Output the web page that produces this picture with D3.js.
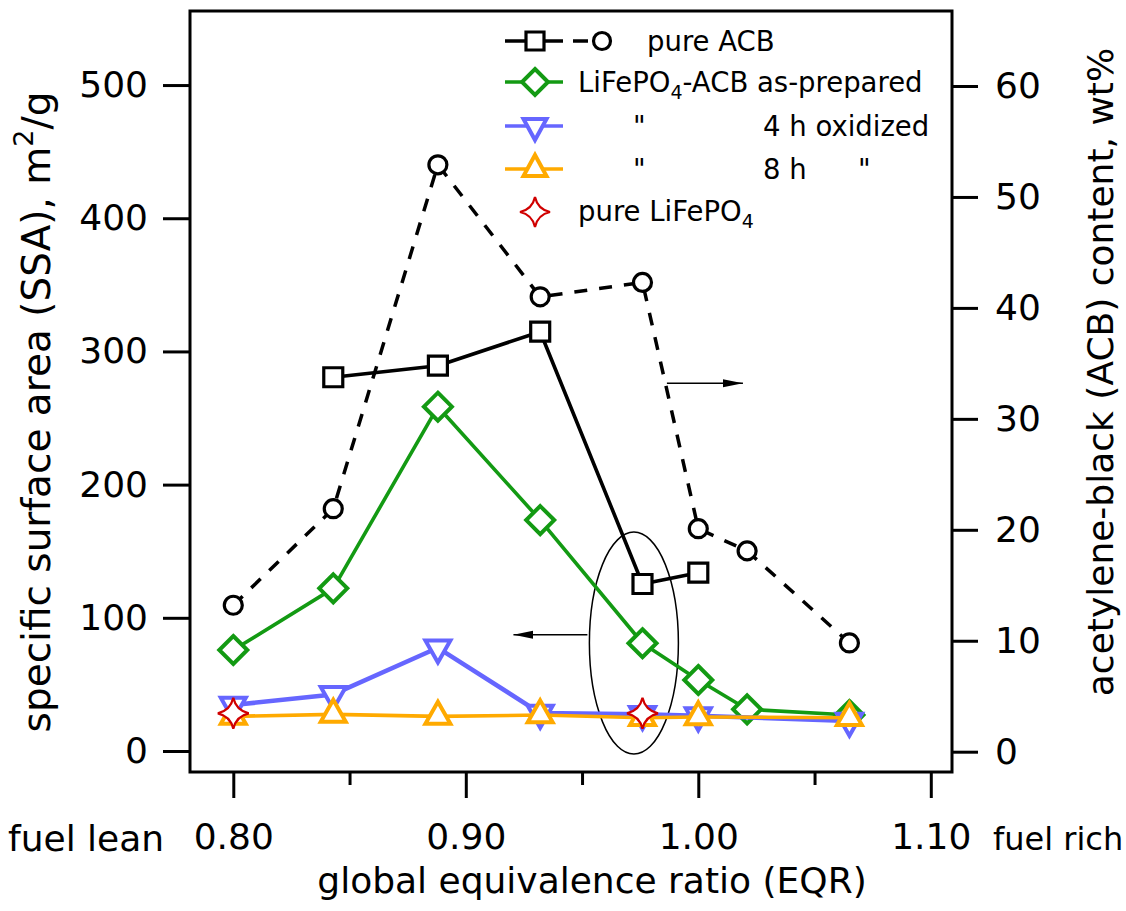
<!DOCTYPE html>
<html>
<head>
<meta charset="utf-8">
<script src="https://cdn.jsdelivr.net/npm/d3@7"></script>
<style>
  html, body { margin: 0; padding: 0; background: #fff; }
  svg { display: block; font-family: "DejaVu Sans", sans-serif; }
</style>
</head>
<body>
<svg id="chart" width="1126" height="911"></svg>
<script>
// ---------------- data ----------------
const eqrAll = [0.80, 0.843, 0.888, 0.932, 0.976, 1.00, 1.021, 1.065];
const acbContent = [13.2, 21.9, 52.9, 41.0, 42.3, 20.1, 18.1, 9.8];          // wt%, right axis (circles)
const eqrAcbSSA = [0.843, 0.888, 0.932, 0.976, 1.00];
const acbSSA = [280.6, 289.3, 314.8, 125.4, 133.9];                         // m2/g (squares)
const asPrepared = [75.8, 122.1, 258.5, 173.4, 80.9, 53.3, 31.3, 27.0];     // green diamonds
const eqrOx = [0.80, 0.843, 0.888, 0.932, 0.976, 1.00, 1.065];
const oxidized4h = [34.5, 42.5, 77.5, 28.5, 27.5, 26.5, 22.5];               // blue
const oxidized8h = [26.0, 27.5, 26.0, 27.0, 25.0, 25.5, 25.0];               // orange
const eqrLFP = [0.80, 0.976];
const pureLFP = [28.3, 28.3];                                                // red stars

const xTicks = [0.80, 0.90, 1.00, 1.10];
const xMinorTicks = [0.85, 0.95, 1.05];
const yLeftTicks = [0, 100, 200, 300, 400, 500];
const yRightTicks = [0, 10, 20, 30, 40, 50, 60];

// annotations (data coordinates)
const ellipseAnno = { x: 0.9723, y: 81 };
const leftArrow = { x1: 0.9523, x2: 0.9205, y: 87.3 };
const rightArrow = { x1: 0.9865, x2: 1.0192, y: 33.2 };

// ---------------- layout ----------------
const svg = d3.select("#chart");
const L = 190, R = 952, T = 11, B = 772;

const x = d3.scaleLinear().domain([0.78138, 1.10912]).range([L, R]);
const yL = d3.scaleLinear().domain([-15.77, 555.6]).range([B, T]);
const yR = d3.scaleLinear().domain([-1.83, 66.76]).range([B, T]);

const BLACK = "#000", GREEN = "#139a13", BLUE = "#6666ff", ORANGE = "#ffaa00", RED = "#d00000";

// ---------------- symbols ----------------
function squarePath(s) { const h = s / 2; return `M${-h},${-h}H${h}V${h}H${-h}Z`; }
function diamondPath(h) { return `M0,${-h}L${h},0L0,${h}L${-h},0Z`; }
function triUpPath(w, hgt) { return `M0,${-2*hgt/3}L${w/2},${hgt/3}L${-w/2},${hgt/3}Z`; }
function triDownPath(w, hgt) { return `M0,${2*hgt/3}L${w/2},${-hgt/3}L${-w/2},${-hgt/3}Z`; }
function starPath(Rr) { const c = Rr * 0.18;
  return `M0,${-Rr}Q${c},${-c} ${Rr},0Q${c},${c} 0,${Rr}Q${-c},${c} ${-Rr},0Q${-c},${-c} 0,${-Rr}Z`; }

// ---------------- axes frame ----------------
const g = svg.append("g");

const axL = d3.axisLeft(yL).tickValues(yLeftTicks).tickSize(27).tickPadding(15).tickFormat(d3.format("d"));
const gL = g.append("g").attr("transform", `translate(${L},0)`).call(axL);
const axR = d3.axisRight(yR).tickValues(yRightTicks).tickSize(26).tickPadding(17).tickFormat(d3.format("d"));
const gR = g.append("g").attr("transform", `translate(${R},0)`).call(axR);
const axB = d3.axisBottom(x).tickValues(xTicks).tickSize(26).tickPadding(25).tickFormat(d3.format(".2f"));
const gB = g.append("g").attr("transform", `translate(0,${B})`).call(axB);
const axBm = d3.axisBottom(x).tickValues(xMinorTicks).tickSize(13).tickFormat("");
const gBm = g.append("g").attr("transform", `translate(0,${B})`).call(axBm);

[gL, gR, gB, gBm].forEach(a => {
  a.select(".domain").remove();
  a.selectAll(".tick line").attr("stroke", BLACK).attr("stroke-width", 3);
  a.selectAll(".tick text").attr("font-size", 36).attr("font-family", "DejaVu Sans").attr("fill", BLACK);
});
gB.selectAll(".tick text").attr("dy", "0.71em");

g.append("rect").attr("x", L).attr("y", T).attr("width", R - L).attr("height", B - T)
  .attr("fill", "none").attr("stroke", BLACK).attr("stroke-width", 3);

// axis titles
svg.append("text").attr("x", 8).attr("y", 851).attr("font-size", 36).text("fuel lean");
svg.append("text").attr("x", 993).attr("y", 850).attr("font-size", 32).text("fuel rich");
svg.append("text").attr("x", 592).attr("y", 893).attr("font-size", 36).attr("text-anchor", "middle")
  .text("global equivalence ratio (EQR)");

const lt = svg.append("text").attr("transform", "translate(50,412) rotate(-90)")
  .attr("text-anchor", "middle").attr("font-size", 39);
lt.append("tspan").text("specific surface area (SSA), m");
lt.append("tspan").attr("font-size", 27).attr("dy", -17).text("2");
lt.append("tspan").attr("dy", 17).text("/g");

svg.append("text").attr("transform", "translate(1113,372) rotate(-90)")
  .attr("text-anchor", "middle").attr("font-size", 36).text("acetylene-black (ACB) content, wt%");

// ---------------- annotations ----------------
const defs = svg.append("defs");
defs.append("marker").attr("id", "ah").attr("viewBox", "0 0 20 10").attr("refX", 20).attr("refY", 5)
  .attr("markerWidth", 20).attr("markerHeight", 10).attr("markerUnits", "userSpaceOnUse").attr("orient", "auto")
  .append("path").attr("d", "M0,1L20,5L0,9Z").attr("fill", BLACK);

g.append("ellipse").attr("cx", x(ellipseAnno.x)).attr("cy", yL(ellipseAnno.y)).attr("rx", 44.5).attr("ry", 111)
  .attr("fill", "none").attr("stroke", BLACK).attr("stroke-width", 1.5);
g.append("line").attr("x1", x(leftArrow.x1)).attr("x2", x(leftArrow.x2))
  .attr("y1", yL(leftArrow.y)).attr("y2", yL(leftArrow.y))
  .attr("stroke", BLACK).attr("stroke-width", 1.5).attr("marker-end", "url(#ah)");
g.append("line").attr("x1", x(rightArrow.x1)).attr("x2", x(rightArrow.x2))
  .attr("y1", yR(rightArrow.y)).attr("y2", yR(rightArrow.y))
  .attr("stroke", BLACK).attr("stroke-width", 1.5).attr("marker-end", "url(#ah)");

// ---------------- series ----------------
function series(xs, ys, yScale, color, lw, dash, symbol, symW) {
  const pts = xs.map((v, i) => [x(v), yScale(ys[i])]);
  const sg = g.append("g");
  if (lw > 0) {
    sg.append("path").attr("d", d3.line()(pts)).attr("fill", "none").attr("stroke", color)
      .attr("stroke-width", lw).attr("stroke-dasharray", dash || null).attr("stroke-linejoin", "round");
  }
  if (symbol) {
    sg.selectAll("path.m").data(pts).join("path").attr("class", "m")
      .attr("transform", d => `translate(${d[0]},${d[1]})`)
      .attr("d", symbol).attr("fill", "#fff").attr("stroke", color).attr("stroke-width", symW)
      .attr("stroke-linejoin", "miter");
  }
  return sg;
}

const acbLine = series(eqrAll, acbContent, yR, BLACK, 3.5, "13,12", null, 3);
acbLine.selectAll("circle").data(eqrAll.map((v, i) => [x(v), yR(acbContent[i])])).join("circle")
  .attr("cx", d => d[0]).attr("cy", d => d[1]).attr("r", 9)
  .attr("fill", "#fff").attr("stroke", BLACK).attr("stroke-width", 3.2);

series(eqrAcbSSA, acbSSA, yL, BLACK, 3.6, null, squarePath(19), 3.2);
series(eqrAll, asPrepared, yL, GREEN, 3.6, null, diamondPath(14), 4);
series(eqrOx, oxidized4h, yL, BLUE, 4.5, null, triDownPath(25, 22), 4);
series(eqrOx, oxidized8h, yL, ORANGE, 3.6, null, triUpPath(25, 22), 4);
series(eqrLFP, pureLFP, yL, RED, 0, null, starPath(15.5), 2.2);

// ---------------- legend ----------------
const lg = svg.append("g");
const rows = [
  { y: 41, color: BLACK, sym: squarePath(18), sw: 3.2 },
  { y: 82, color: GREEN, sym: diamondPath(13), sw: 4 },
  { y: 126, color: BLUE, sym: triDownPath(23, 21), sw: 4 },
  { y: 169, color: ORANGE, sym: triUpPath(23, 21), sw: 4 }
];
rows.forEach(r => {
  lg.append("line").attr("x1", 505).attr("x2", 563).attr("y1", r.y).attr("y2", r.y)
    .attr("stroke", r.color).attr("stroke-width", 3.5);
  lg.append("path").attr("transform", `translate(535,${r.y})`).attr("d", r.sym)
    .attr("fill", "#fff").attr("stroke", r.color).attr("stroke-width", r.sw);
});
lg.append("line").attr("x1", 573).attr("x2", 588).attr("y1", 41).attr("y2", 41).attr("stroke", BLACK).attr("stroke-width", 3.5);
lg.append("circle").attr("cx", 602).attr("cy", 41).attr("r", 8.5).attr("fill", "#fff").attr("stroke", BLACK).attr("stroke-width", 3.2);
lg.append("path").attr("transform", "translate(535,212)").attr("d", starPath(15))
  .attr("fill", "#fff").attr("stroke", RED).attr("stroke-width", 2.2);

const fs = 27.5;
lg.append("text").attr("x", 647).attr("y", 51).attr("font-size", fs).text("pure ACB");
const t2 = lg.append("text").attr("x", 578).attr("y", 92).attr("font-size", fs);
t2.append("tspan").text("LiFePO");
t2.append("tspan").attr("font-size", 19).attr("dy", 7).text("4");
t2.append("tspan").attr("dy", -7).text("-ACB as-prepared");
lg.append("text").attr("x", 633).attr("y", 136).attr("font-size", fs).text("\"");
lg.append("text").attr("x", 763).attr("y", 136).attr("font-size", fs).text("4 h oxidized");
lg.append("text").attr("x", 633).attr("y", 179).attr("font-size", fs).text("\"");
lg.append("text").attr("x", 763).attr("y", 179).attr("font-size", fs).text("8 h");
lg.append("text").attr("x", 858).attr("y", 179).attr("font-size", fs).text("\"");
const t5 = lg.append("text").attr("x", 578).attr("y", 221).attr("font-size", fs);
t5.append("tspan").text("pure LiFePO");
t5.append("tspan").attr("font-size", 19).attr("dy", 7).text("4");
</script>
</body>
</html>
